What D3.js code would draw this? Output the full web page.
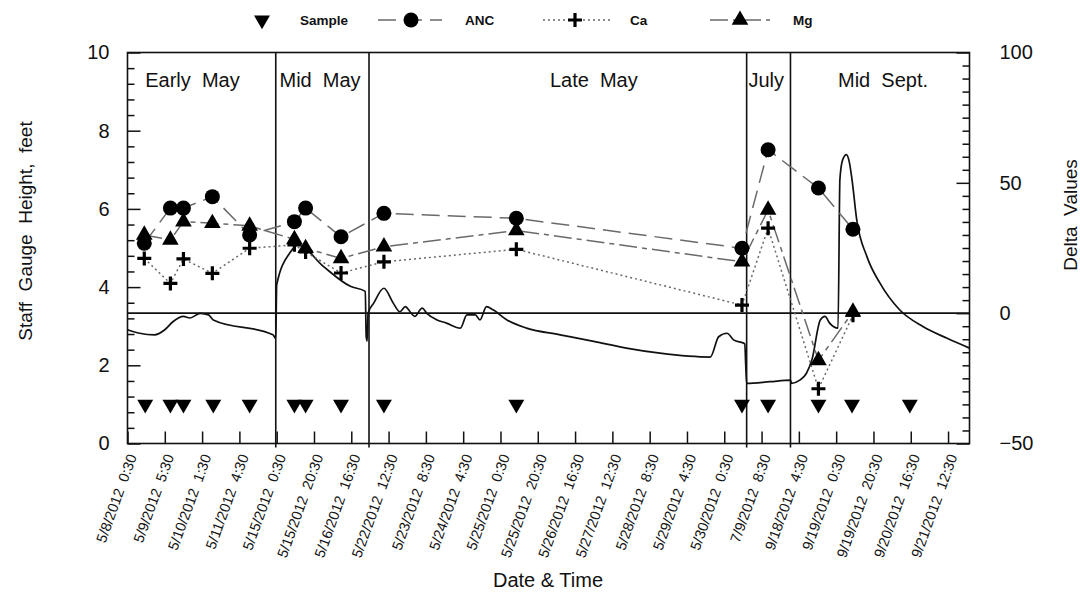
<!DOCTYPE html>
<html>
<head>
<meta charset="utf-8">
<script src="https://cdnjs.cloudflare.com/ajax/libs/d3/7.8.5/d3.min.js"></script>
<style>
  body { margin: 0; background: #fff; }
  svg { font-family: Arial, "Liberation Sans", sans-serif; }
</style>
</head>
<body>
<div class="chart"></div>
<script>
// x runs along the stitched record: one step = one half-hour reading
const tickLabels = [
  "5/8/2012  0:30", "5/9/2012  5:30", "5/10/2012  1:30", "5/11/2012  4:30",
  "5/15/2012  0:30", "5/15/2012  20:30", "5/16/2012  16:30", "5/22/2012  12:30",
  "5/23/2012  8:30", "5/24/2012  4:30", "5/25/2012  0:30", "5/25/2012  20:30",
  "5/26/2012  16:30", "5/27/2012  12:30", "5/28/2012  8:30", "5/29/2012  4:30",
  "5/30/2012  0:30", "7/9/2012  8:30", "9/18/2012  4:30", "9/19/2012  0:30",
  "9/19/2012  20:30", "9/20/2012  16:30", "9/21/2012  12:30"
];
const periods = ["Early  May", "Mid  May", "Late  May", "July", "Mid  Sept."];
const periodBreaks = [159, 259, 664, 711];

// staff gauge height, feet (left axis)
const gaugeIdx = [0, 13, 29, 40, 49, 60, 67, 78, 87, 92, 156, 159,
  160, 174, 183, 210, 239, 255, 256,
  257, 258, 264, 275, 285, 292, 298, 303, 308, 316, 321, 332, 342, 357, 364, 373, 378, 385, 392, 407, 428, 464, 500, 535, 571, 625, 634, 643, 650, 662, 663,
  664, 689, 711,
  712, 721, 728, 734, 743, 748, 753, 762, 764, 767, 771, 774, 777, 782, 793, 807, 828, 853, 879, 903];
const gaugeFt = [2.91, 2.82, 2.78, 2.91, 3.12, 3.25, 3.21, 3.33, 3.29, 3.16, 2.78, 2.69,
  4.06, 4.87, 5.08, 4.53, 4.02, 3.89, 2.73,
  2.62, 3.33, 3.59, 3.97, 3.59, 3.37, 3.50, 3.37, 3.25, 3.46, 3.33, 3.16, 3.08, 2.95, 3.29, 3.29, 3.16, 3.50, 3.42, 3.16, 2.95, 2.78, 2.61, 2.44, 2.31, 2.21, 2.73, 2.82, 2.65, 2.55, 2.01,
  1.54, 1.58, 1.62,
  1.54, 1.62, 1.79, 2.14, 3.16, 3.25, 3.08, 2.95, 6.75, 7.26, 7.39, 7.21, 6.75, 5.73, 4.78, 4.10, 3.42, 2.99, 2.69, 2.44];

// sampling times (plotted at 1 ft)
const sampleIdx = [19, 46, 60, 92, 131, 179, 191, 229, 275, 417, 659, 687, 741, 777, 839];

// delta values (right axis)
const chemIdx = [18, 46, 60, 91, 131, 179, 191, 229, 275, 417, 659, 687, 741, 778];
const anc = [26.8, 40.3, 40.3, 44.7, 30.0, 35.1, 40.3, 29.3, 38.3, 36.4, 24.9, 62.7, 48.0, 32.2];
const ca  = [21.0, 11.4, 20.8, 15.3, 24.9, 26.2, 23.5, 15.4, 19.7, 24.5, 3.1, 32.6, -29.0, -0.8];
const mg  = [30.0, 28.1, 35.1, 34.5, 33.5, 28.3, 24.9, 21.0, 25.5, 31.7, 19.7, 39.6, -18.1, 0.5];

const width = 1080, height = 601;
const margin = {top: 52.5, left: 127.5, right: 110.5, bottom: 157.5};

const svg = d3.select('.chart').append('svg')
  .attr('width', width)
  .attr('height', height);

const x = d3.scaleLinear().domain([0, 903]).range([margin.left, width - margin.right]);
const yL = d3.scaleLinear().domain([0, 10]).range([height - margin.bottom, margin.top]);
const yR = d3.scaleLinear().domain([-50, 100]).range([height - margin.bottom, margin.top]);

const ink = '#111';
const grey = '#6a6a6a';
const bottom = height - margin.bottom;

// axes (ticks point inward)
const leftMinor = d3.range(0, 26).map(i => i * 0.4);
svg.append('g')
  .attr('transform', `translate(${margin.left},0)`)
  .call(d3.axisLeft(yL).tickValues(leftMinor.filter((d, i) => i % 5 !== 0)).tickSizeInner(-7).tickSizeOuter(0).tickFormat(''))
  .call(g => g.select('.domain').remove());
svg.append('g')
  .attr('transform', `translate(${margin.left},0)`)
  .call(d3.axisLeft(yL).tickValues([0, 2, 4, 6, 8, 10]).tickSizeInner(-13).tickSizeOuter(0).tickPadding(18))
  .call(g => g.select('.domain').remove())
  .call(g => g.selectAll('text').style('font-size', '20px').attr('fill', ink));

const rightMinor = d3.range(-50, 101, 5);
svg.append('g')
  .attr('transform', `translate(${width - margin.right},0)`)
  .call(d3.axisRight(yR).tickValues(rightMinor.filter(d => d % 50 !== 0)).tickSizeInner(-7).tickSizeOuter(0).tickFormat(''))
  .call(g => g.select('.domain').remove());
svg.append('g')
  .attr('transform', `translate(${width - margin.right},0)`)
  .call(d3.axisRight(yR).tickValues([-50, 0, 50, 100]).tickSizeInner(-13).tickSizeOuter(0).tickPadding(30))
  .call(g => g.select('.domain').remove())
  .call(g => g.selectAll('text').style('font-size', '20px').attr('fill', ink));

svg.append('g')
  .attr('transform', `translate(0,${bottom})`)
  .call(d3.axisBottom(x).tickValues(d3.range(0, 881, 40)).tickSizeInner(-12).tickSizeOuter(0)
    .tickFormat((d, i) => tickLabels[i]))
  .call(g => g.select('.domain').remove())
  .call(g => g.selectAll('text')
    .attr('y', 0).attr('dy', 0)
    .attr('transform', 'translate(9,13) rotate(-70)')
    .attr('text-anchor', 'end')
    .style('white-space', 'pre')
    .style('font-size', '14.5px')
    .attr('fill', ink));

svg.selectAll('.tick line').attr('stroke', ink).attr('stroke-width', 1.5);

// frame, period dividers, zero line
svg.append('rect')
  .attr('x', margin.left).attr('y', margin.top)
  .attr('width', width - margin.left - margin.right)
  .attr('height', height - margin.top - margin.bottom)
  .attr('fill', 'none').attr('stroke', ink).attr('stroke-width', 1.6);

svg.append('g').selectAll('line')
  .data(periodBreaks)
  .enter().append('line')
  .attr('x1', d => x(d)).attr('x2', d => x(d))
  .attr('y1', margin.top).attr('y2', bottom + 4)
  .attr('stroke', ink).attr('stroke-width', 1.6);

svg.append('line')
  .attr('x1', margin.left).attr('x2', width - margin.right)
  .attr('y1', yR(0)).attr('y2', yR(0))
  .attr('stroke', ink).attr('stroke-width', 1.6);

// period names
const periodAt = [19, 163, 453, 666, 762];
svg.append('g').selectAll('text')
  .data(periods)
  .enter().append('text')
  .attr('x', (d, i) => x(periodAt[i]))
  .attr('y', 87)
  .style('font-size', '20px')
  .style('white-space', 'pre')
  .attr('fill', ink)
  .text(d => d);

// staff gauge trace
const gauge = gaugeIdx.map((d, i) => [d, gaugeFt[i]]);
svg.append('path')
  .datum(gauge)
  .attr('d', d3.line().curve(d3.curveMonotoneX).x(d => x(d[0])).y(d => yL(d[1])))
  .attr('fill', 'none').attr('stroke', ink).attr('stroke-width', 1.7)
  .attr('stroke-linejoin', 'round');

// chemistry series
const series = [
  {name: 'ANC', values: anc, dash: '18,8', marker: 'circle'},
  {name: 'Ca', values: ca, dash: '2,3', marker: 'cross'},
  {name: 'Mg', values: mg, dash: '18,5,5,5', marker: 'triangle'}
];

const line = d3.line().x(d => x(d[0])).y(d => yR(d[1]));

function drawMarker(g, type, cx, cy) {
  if (type === 'circle') {
    g.append('circle').attr('cx', cx).attr('cy', cy).attr('r', 7.5).attr('fill', '#000');
  } else if (type === 'triangle') {
    g.append('path').attr('transform', `translate(${cx},${cy})`)
      .attr('d', d3.symbol().type(d3.symbolTriangle).size(120)()).attr('fill', '#000');
  } else if (type === 'down') {
    g.append('path').attr('transform', `translate(${cx},${cy}) rotate(180)`)
      .attr('d', d3.symbol().type(d3.symbolTriangle).size(110)()).attr('fill', '#000');
  } else {
    g.append('path').attr('d', `M${cx - 7},${cy}H${cx + 7}M${cx},${cy - 7}V${cy + 7}`)
      .attr('stroke', '#000').attr('stroke-width', 3.2).attr('fill', 'none');
  }
}

series.forEach(s => {
  const pts = chemIdx.map((d, i) => [d, s.values[i]]);
  svg.append('path')
    .datum(pts)
    .attr('d', line)
    .attr('fill', 'none').attr('stroke', grey).attr('stroke-width', 1.5)
    .attr('stroke-dasharray', s.dash);
});
series.forEach(s => {
  const g = svg.append('g');
  chemIdx.forEach((d, i) => drawMarker(g, s.marker, x(d), yR(s.values[i])));
});

const sg = svg.append('g');
sampleIdx.forEach(d => drawMarker(sg, 'down', x(d), yL(1)));

// axis titles
svg.append('text')
  .attr('transform', 'translate(32,231) rotate(-90)')
  .attr('text-anchor', 'middle')
  .style('font-size', '19px').style('white-space', 'pre').attr('fill', ink)
  .text('Staff  Gauge  Height,  feet');
svg.append('text')
  .attr('transform', 'translate(1077,215) rotate(-90)')
  .attr('text-anchor', 'middle')
  .style('font-size', '19px').style('white-space', 'pre').attr('fill', ink)
  .text('Delta  Values');
svg.append('text')
  .attr('x', 548).attr('y', 587)
  .attr('text-anchor', 'middle')
  .style('font-size', '20px').attr('fill', ink)
  .text('Date & Time');

// legend
const lg = svg.append('g').attr('transform', 'translate(0,20)');
drawMarker(lg, 'down', 262, 0);
const legendItems = [
  {label: 'Sample', textX: 300},
  {label: 'ANC', textX: 465, x0: 378, x1: 442, mx: 411, s: series[0]},
  {label: 'Ca', textX: 630, x0: 543, x1: 610, mx: 575, s: series[1]},
  {label: 'Mg', textX: 793, x0: 710, x1: 770, mx: 740, s: series[2]}
];
legendItems.forEach(it => {
  if (it.s) {
    lg.append('line').attr('x1', it.x0).attr('x2', it.x1).attr('y1', 0).attr('y2', 0)
      .attr('stroke', grey).attr('stroke-width', 1.5).attr('stroke-dasharray', it.s.dash);
    drawMarker(lg, it.s.marker, it.mx, 0);
  }
  lg.append('text').attr('x', it.textX).attr('y', 5)
    .style('font-size', '13.5px').style('font-weight', 'bold').attr('fill', ink)
    .text(it.label);
});
</script>
</body>
</html>
